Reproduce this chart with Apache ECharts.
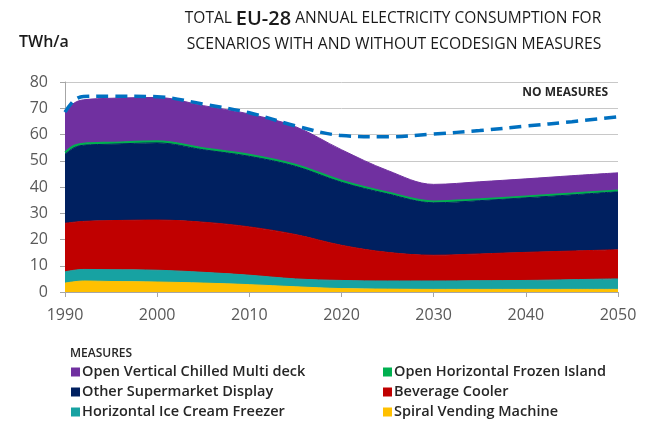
<!DOCTYPE html>
<html>
<head>
<meta charset="utf-8">
<script src="https://cdn.jsdelivr.net/npm/echarts@6/dist/echarts.min.js"></script>
<style>
  html, body { margin: 0; padding: 0; background: #fff; }
  #chart { width: 650px; height: 421px; }
</style>
</head>
<body>
<div id="chart"></div>
<script>
// Years sampled along the 1990–2050 horizon
const years = [1990, 1991, 1992, 1995, 2000, 2005, 2010, 2015, 2020, 2025, 2030, 2035, 2040, 2045, 2050];

// Consumption per appliance group with ecodesign measures (TWh/a), stacked bottom to top
const spiralVending   = [3.4, 3.9, 4.2, 4.0, 3.8, 3.4, 2.8, 2.0, 1.3, 1.1, 1.0, 1.0, 1.0, 1.0, 1.0];
const iceCreamFreezer = [4.3, 4.4, 4.4, 4.5, 4.5, 4.1, 3.6, 3.0, 3.1, 3.1, 3.2, 3.3, 3.4, 3.7, 4.0];
const beverageCooler  = [18.5, 18.3, 18.3, 18.7, 19.1, 19.1, 18.4, 16.9, 13.4, 10.9, 9.8, 10.2, 10.7, 10.9, 11.1];
const otherSupermkt   = [26.3, 28.4, 29.0, 29.1, 29.4, 27.6, 26.9, 26.0, 24.0, 22.3, 20.0, 20.3, 20.8, 21.4, 22.1];
const frozenIsland    = [0.8, 0.8, 0.7, 0.7, 0.7, 0.7, 0.7, 0.7, 0.7, 0.6, 0.6, 0.6, 0.6, 0.6, 0.6];
const chilledMulti    = [15.2, 16.2, 16.6, 16.8, 16.6, 16.1, 15.4, 14.4, 11.7, 8.3, 6.4, 6.6, 6.6, 6.7, 6.6];

// Total without measures (TWh/a)
const noMeasures = [68.5, 73.0, 74.5, 74.6, 74.4, 71.6, 68.3, 63.3, 59.6, 59.1, 60.2, 61.5, 63.2, 64.9, 66.7];

const yTicks = { min: 0, max: 80, interval: 10 };
const xTicks = { min: 1990, max: 2050, interval: 10 };

const names = {
  spiral: 'Spiral Vending Machine',
  ice: 'Horizontal Ice Cream Freezer',
  bev: 'Beverage Cooler',
  other: 'Other Supermarket Display',
  frozen: 'Open Horizontal Frozen Island',
  chilled: 'Open Vertical Chilled Multi deck'
};

// Value first, year second: the stack is applied to the first numeric dimension,
// so the consumption value must come first; encode maps it back onto the axes.
const pair = arr => years.map((y, i) => [arr[i], y]);

function areaSeries(name, values, color, lineW) {
  return {
    name: name,
    type: 'line',
    stack: 'measures',
    smooth: 0.35,
    symbol: 'none',
    dimensions: ['twh', 'year'],
    encode: { x: 'year', y: 'twh' },
    data: pair(values),
    lineStyle: { color: color, width: lineW },
    itemStyle: { color: color },
    areaStyle: { color: color, opacity: 1 },
    z: 2
  };
}

const FONT = '"Open Sans", "Noto Sans", sans-serif';
const legendText = { color: '#262626', fontSize: 14.5, fontWeight: 600, fontFamily: FONT, padding: [0, 0, 0, -3], lineHeight: 16 };

const chart = echarts.init(document.getElementById('chart'), null, { renderer: 'canvas' });

chart.setOption({
  animation: false,
  backgroundColor: '#ffffff',
  grid: { left: 65, right: 32, top: 82, bottom: 129, containLabel: false },
  xAxis: {
    type: 'value',
    min: xTicks.min, max: xTicks.max, interval: xTicks.interval,
    axisLine: { show: true, lineStyle: { color: '#A6A6A6', width: 1 } },
    axisTick: { show: true, length: 5, lineStyle: { color: '#A6A6A6' } },
    splitLine: { show: false },
    axisLabel: { color: '#595959', fontSize: 16, fontFamily: FONT, margin: 15, formatter: v => String(v) }
  },
  yAxis: {
    type: 'value',
    min: yTicks.min, max: yTicks.max, interval: yTicks.interval,
    axisLine: { show: true, lineStyle: { color: '#A6A6A6', width: 1 } },
    axisTick: { show: true, length: 5, lineStyle: { color: '#A6A6A6' } },
    splitLine: { show: true, lineStyle: { color: '#C8C8C8', width: 1 } },
    axisLabel: { color: '#595959', fontSize: 16, fontFamily: FONT, margin: 17 }
  },
  legend: [
    {
      orient: 'vertical', left: 71, top: 364, padding: 0,
      itemWidth: 9, itemHeight: 9, itemGap: 4, icon: 'rect',
      data: [names.chilled, names.other, names.ice],
      textStyle: legendText
    },
    {
      orient: 'vertical', left: 383, top: 364, padding: 0,
      itemWidth: 9, itemHeight: 9, itemGap: 4, icon: 'rect',
      data: [names.frozen, names.bev, names.spiral],
      textStyle: legendText
    }
  ],
  graphic: [
    {
      type: 'text',
      style: {
        x: 393, y: 19, align: 'center', verticalAlign: 'middle',
        text: 'TOTAL {b|EU-28} ANNUAL ELECTRICITY CONSUMPTION FOR',
        fill: '#1a1a1a', font: '15.5px ' + FONT,
        rich: { b: { fontSize: 20, fontWeight: 600, fontFamily: FONT, fill: '#1a1a1a' } }
      }
    },
    {
      type: 'text',
      style: {
        x: 394, y: 45, align: 'center', verticalAlign: 'middle',
        text: 'SCENARIOS WITH AND WITHOUT ECODESIGN MEASURES',
        fill: '#1a1a1a', font: '15.7px ' + FONT
      }
    },
    {
      type: 'text',
      style: {
        x: 19, y: 42, align: 'left', verticalAlign: 'middle',
        text: 'TWh/a', fill: '#1a1a1a', font: '600 16px ' + FONT
      }
    },
    {
      type: 'text',
      style: {
        x: 608, y: 93, align: 'right', verticalAlign: 'middle',
        text: 'NO MEASURES', fill: '#262626', font: '700 12px ' + FONT
      }
    },
    {
      type: 'text',
      style: {
        x: 70, y: 354, align: 'left', verticalAlign: 'middle',
        text: 'MEASURES', fill: '#262626', font: '600 12px ' + FONT
      }
    }
  ],
  series: [
    areaSeries(names.spiral, spiralVending, '#FFC000', 1),
    areaSeries(names.ice, iceCreamFreezer, '#17A2A2', 1),
    areaSeries(names.bev, beverageCooler, '#C00000', 1),
    areaSeries(names.other, otherSupermkt, '#002060', 1),
    areaSeries(names.frozen, frozenIsland, '#00B050', 1.5),
    areaSeries(names.chilled, chilledMulti, '#7030A0', 1),
    {
      name: 'NO MEASURES',
      type: 'line',
      smooth: 0.35,
      symbol: 'none',
      data: years.map((y, i) => [y, noMeasures[i]]),
      lineStyle: { color: '#0070C0', width: 3.5, type: [12, 7] },
      z: 5
    }
  ]
});
</script>
</body>
</html>
